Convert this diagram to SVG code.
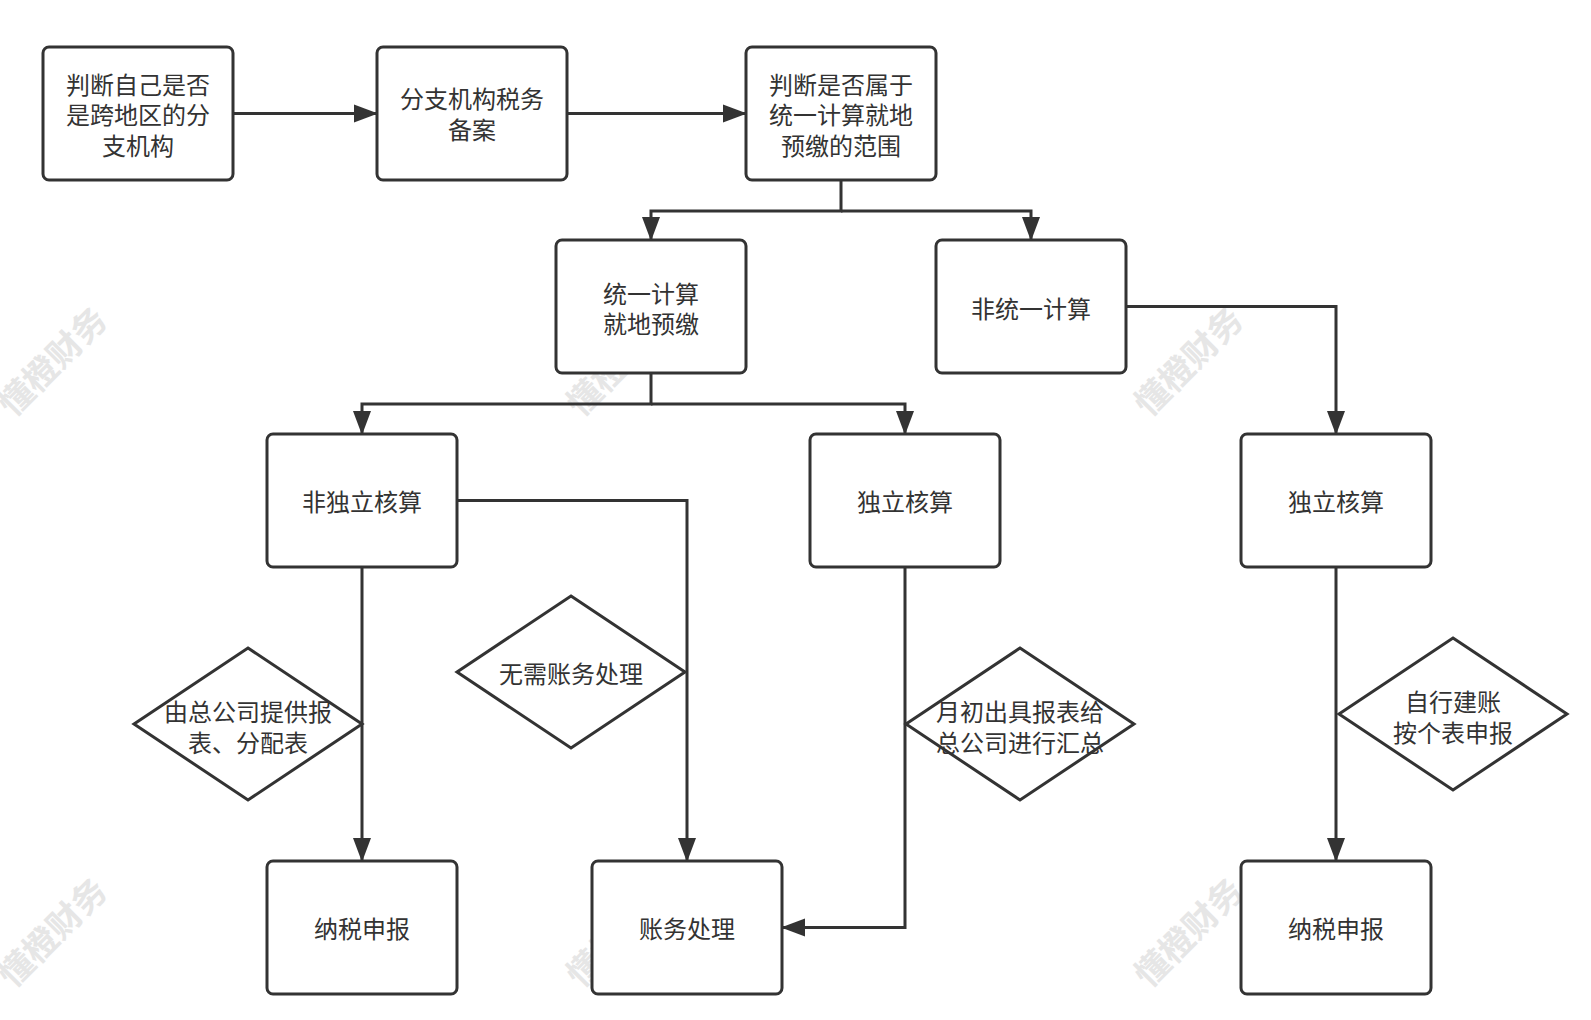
<svg xmlns="http://www.w3.org/2000/svg" width="1591" height="1020" viewBox="0 0 1591 1020">
<style>
.wm{font-family:"Noto Sans CJK SC",sans-serif;font-size:34px;font-weight:bold;fill:#e6e6e6;text-anchor:middle;dominant-baseline:central}
.box{fill:#fff;stroke:#333;stroke-width:3}
.dia{fill:#fff;stroke:#333;stroke-width:3}
.t{font-family:"Noto Sans CJK SC","Liberation Sans",sans-serif;font-size:24px;fill:#333;text-anchor:middle;dominant-baseline:central}
.c{fill:none;stroke:#333;stroke-width:3}
</style>
<defs>
<marker id="ah" markerUnits="userSpaceOnUse" markerWidth="24" markerHeight="20" viewBox="0 0 24 20" refX="23" refY="10" orient="auto">
<path d="M0,1 L24,10 L0,19 Z" fill="#333"/>
</marker>
</defs>
<rect width="1591" height="1020" fill="#fff"/>
<g id="watermarks">
<text class="wm" transform="translate(51,360) rotate(-45)">懂橙财务</text>
<text class="wm" transform="translate(619,360) rotate(-45)">懂橙财务</text>
<text class="wm" transform="translate(1187,360) rotate(-45)">懂橙财务</text>
<text class="wm" transform="translate(51,931) rotate(-45)">懂橙财务</text>
<text class="wm" transform="translate(619,931) rotate(-45)">懂橙财务</text>
<text class="wm" transform="translate(1187,931) rotate(-45)">懂橙财务</text>
</g>
<g id="connectors">
<path class="c" d="M233,113.5 H377" marker-end="url(#ah)"/>
<path class="c" d="M567,113.5 H746" marker-end="url(#ah)"/>
<path class="c" d="M841,180 V211 H651 V240" marker-end="url(#ah)"/>
<path class="c" d="M841,211 H1031 V240" marker-end="url(#ah)"/>
<path class="c" d="M651,373 V404 H362 V434" marker-end="url(#ah)"/>
<path class="c" d="M651,404 H905 V434" marker-end="url(#ah)"/>
<path class="c" d="M1126,306.5 H1336 V434" marker-end="url(#ah)"/>
<path class="c" d="M457,500.5 H687 V861" marker-end="url(#ah)"/>
<path class="c" d="M362,567 V861" marker-end="url(#ah)"/>
<path class="c" d="M905,567 V927.5 H782" marker-end="url(#ah)"/>
<path class="c" d="M1336,567 V861" marker-end="url(#ah)"/>
</g>
<g id="n1"><rect class="box" x="43" y="47" width="190" height="133" rx="6"/>
<text class="t" x="138" y="83">判断自己是否</text><text class="t" x="138" y="113.5">是跨地区的分</text><text class="t" x="138" y="144">支机构</text></g>
<g id="n2"><rect class="box" x="377" y="47" width="190" height="133" rx="6"/>
<text class="t" x="472" y="97.5">分支机构税务</text><text class="t" x="472" y="128">备案</text></g>
<g id="n3"><rect class="box" x="746" y="47" width="190" height="133" rx="6"/>
<text class="t" x="841" y="83">判断是否属于</text><text class="t" x="841" y="113.5">统一计算就地</text><text class="t" x="841" y="144">预缴的范围</text></g>
<g id="n4"><rect class="box" x="556" y="240" width="190" height="133" rx="6"/>
<text class="t" x="651" y="292">统一计算</text><text class="t" x="651" y="322.5">就地预缴</text></g>
<g id="n5"><rect class="box" x="936" y="240" width="190" height="133" rx="6"/>
<text class="t" x="1031" y="307">非统一计算</text></g>
<g id="n6"><rect class="box" x="267" y="434" width="190" height="133" rx="6"/>
<text class="t" x="362" y="500">非独立核算</text></g>
<g id="n7"><rect class="box" x="810" y="434" width="190" height="133" rx="6"/>
<text class="t" x="905" y="500">独立核算</text></g>
<g id="n8"><rect class="box" x="1241" y="434" width="190" height="133" rx="6"/>
<text class="t" x="1336" y="500">独立核算</text></g>
<g id="n9"><rect class="box" x="267" y="861" width="190" height="133" rx="6"/>
<text class="t" x="362" y="927">纳税申报</text></g>
<g id="n10"><rect class="box" x="592" y="861" width="190" height="133" rx="6"/>
<text class="t" x="687" y="927">账务处理</text></g>
<g id="n11"><rect class="box" x="1241" y="861" width="190" height="133" rx="6"/>
<text class="t" x="1336" y="927">纳税申报</text></g>
<g id="d1"><polygon class="dia" points="248,648 362,724 248,800 134,724"/>
<text class="t" x="248" y="710">由总公司提供报</text><text class="t" x="248" y="741">表、分配表</text></g>
<g id="d2"><polygon class="dia" points="571,596 685,672 571,748 457,672"/>
<text class="t" x="571" y="672">无需账务处理</text></g>
<g id="d3"><polygon class="dia" points="1020,648 1134,724 1020,800 906,724"/>
<text class="t" x="1020" y="710">月初出具报表给</text><text class="t" x="1020" y="741">总公司进行汇总</text></g>
<g id="d4"><polygon class="dia" points="1453,638 1567,714 1453,790 1339,714"/>
<text class="t" x="1453" y="700">自行建账</text><text class="t" x="1453" y="731">按个表申报</text></g>
</svg>
